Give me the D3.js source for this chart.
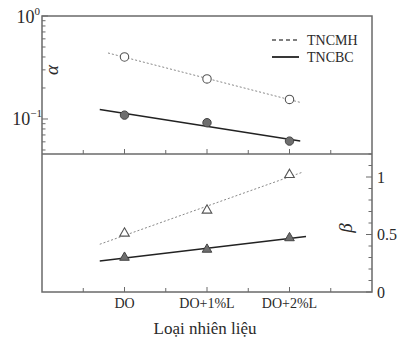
<!DOCTYPE html>
<html>
<head>
<meta charset="utf-8">
<script src="https://cdn.jsdelivr.net/npm/d3@7"></script>
<style>
  html, body { margin: 0; padding: 0; background: #fff; }
  text { font-family: "Liberation Serif", "DejaVu Serif", "Times New Roman", serif; }
</style>
</head>
<body>
<svg id="chart" width="399" height="338"></svg>
<script>
// Fuel types on the x axis
const categories = ["DO", "DO+1%L", "DO+2%L"];
const seriesNames = ["TNCMH", "TNCBC"];

// alpha (log scale, top panel)
const alphaTNCMH = [0.40, 0.245, 0.155];
const alphaTNCBC = [0.109, 0.092, 0.061];

// beta (linear, bottom panel)
const betaTNCMH = [0.51, 0.71, 1.02];
const betaTNCBC = [0.30, 0.37, 0.47];

// extent of the fitted trend lines, in category units
const fitAlphaTNCMH = [-0.2, 2.13];
const fitAlphaTNCBC = [-0.3, 2.13];
const fitBetaTNCMH = [-0.3, 2.15];
const fitBetaTNCBC = [-0.3, 2.2];

const betaTicks = [0, 0.5, 1];
const alphaTickLabels = [{v: 1, e: "0"}, {v: 0.1, e: "\u22121"}];

const FONT = "'Liberation Serif', 'DejaVu Serif', serif";
const svg = d3.select("#chart").attr("font-family", FONT);
const L = 42, R = 372, T = 16, MID = 154, B = 292;
const frame = "#6a6a6a";
const ink = "#2a2a2a";

const x = d3.scaleLinear().domain([-1, 3]).range([L, R]);
const yA = d3.scaleLog().domain([10 ** -1.34, 1]).range([MID, T]);
const yB = d3.scaleLinear().domain([0, 1.2]).range([B, MID]);

// least squares fit, optionally in log space
function fit(vals, logY) {
  const xs = vals.map((_, i) => i);
  const ys = vals.map(v => logY ? Math.log10(v) : v);
  const mx = d3.mean(xs), my = d3.mean(ys);
  const b = d3.sum(xs, (xi, i) => (xi - mx) * (ys[i] - my)) / d3.sum(xs, xi => (xi - mx) ** 2);
  const a = my - b * mx;
  return t => logY ? 10 ** (a + b * t) : a + b * t;
}

function trend(vals, range, yScale, logY, dashed) {
  const f = fit(vals, logY);
  svg.append("line")
    .attr("x1", x(range[0])).attr("y1", yScale(f(range[0])))
    .attr("x2", x(range[1])).attr("y2", yScale(f(range[1])))
    .attr("stroke", dashed ? "#888" : "#222")
    .attr("stroke-width", dashed ? 1 : 1.4)
    .attr("stroke-dasharray", dashed ? "2,2" : null);
}

trend(alphaTNCMH, fitAlphaTNCMH, yA, true, true);
trend(alphaTNCBC, fitAlphaTNCBC, yA, true, false);
trend(betaTNCMH, fitBetaTNCMH, yB, false, true);
trend(betaTNCBC, fitBetaTNCBC, yB, false, false);

// circle markers
svg.selectAll(".cA").data(alphaTNCMH).join("circle")
  .attr("cx", (d, i) => x(i)).attr("cy", d => yA(d)).attr("r", 4.2)
  .attr("fill", "#fff").attr("stroke", "#555").attr("stroke-width", 1.1);
svg.selectAll(".cB").data(alphaTNCBC).join("circle")
  .attr("cx", (d, i) => x(i)).attr("cy", d => yA(d)).attr("r", 4.2)
  .attr("fill", "#6e6e6e").attr("stroke", "#444").attr("stroke-width", 1);

// triangle markers
const tri = d3.symbol().type(d3.symbolTriangle).size(40);
svg.selectAll(".tA").data(betaTNCMH).join("path")
  .attr("d", tri).attr("transform", (d, i) => `translate(${x(i)},${yB(d)})`)
  .attr("fill", "#fff").attr("stroke", "#555").attr("stroke-width", 1.1);
svg.selectAll(".tB").data(betaTNCBC).join("path")
  .attr("d", tri).attr("transform", (d, i) => `translate(${x(i)},${yB(d)})`)
  .attr("fill", "#6e6e6e").attr("stroke", "#444").attr("stroke-width", 1);

// frames
svg.append("rect").attr("x", L).attr("y", T).attr("width", R - L).attr("height", B - T)
  .attr("fill", "none").attr("stroke", frame).attr("stroke-width", 1.5);
svg.append("line").attr("x1", L).attr("x2", R).attr("y1", MID).attr("y2", MID)
  .attr("stroke", frame).attr("stroke-width", 1.5);

// x ticks (inward) on panel divider and bottom edge
const xTicks = d3.range(-0.5, 3, 0.5);
[MID, B].forEach(yy => {
  svg.selectAll(null).data(xTicks).join("line")
    .attr("x1", d => x(d)).attr("x2", d => x(d))
    .attr("y1", yy).attr("y2", d => yy - (Number.isInteger(d) ? 5 : 4))
    .attr("stroke", frame).attr("stroke-width", 1);
});

// log ticks on left of top panel
const logTicks = yA.ticks();
svg.selectAll(null).data(logTicks).join("line")
  .attr("x1", L).attr("x2", d => L + ([1, 0.1].includes(+d.toPrecision(3)) ? 6 : 3.5))
  .attr("y1", d => yA(d)).attr("y2", d => yA(d))
  .attr("stroke", frame).attr("stroke-width", 1);

// beta ticks on right of bottom panel
const betaMinor = d3.range(0, 1.21, 0.1);
svg.selectAll(null).data(betaMinor).join("line")
  .attr("x1", R).attr("x2", (d, i) => R - (i % 5 === 0 ? 6 : 3.5))
  .attr("y1", d => yB(d)).attr("y2", d => yB(d))
  .attr("stroke", frame).attr("stroke-width", 1);

// tick labels
svg.selectAll(null).data(categories).join("text")
  .attr("x", (d, i) => x(i)).attr("y", B + 16)
  .attr("text-anchor", "middle").attr("font-size", 14).attr("fill", ink)
  .text(d => d);

svg.selectAll(null).data(betaTicks).join("text")
  .attr("x", R + 5).attr("y", d => yB(d) + 5.5)
  .attr("font-size", 16).attr("fill", ink)
  .text(d => d);

alphaTickLabels.forEach(t => {
  const txt = svg.append("text").attr("y", yA(t.v) + 6.5).attr("font-size", 18).attr("fill", ink)
    .attr("text-anchor", "end").attr("x", t.e === "0" ? 40 : 42);
  txt.append("tspan").text("10");
  txt.append("tspan").attr("font-size", 11).attr("dy", -8).text(t.e);
});

// axis titles
svg.append("text").attr("transform", `translate(58,70) rotate(-90)`)
  .attr("text-anchor", "middle").attr("font-size", 19).attr("font-style", "italic")
  .attr("fill", ink).text("\u03b1");
svg.append("text").attr("transform", `translate(352,228) rotate(-90)`)
  .attr("text-anchor", "middle").attr("font-size", 19).attr("font-style", "italic")
  .attr("fill", ink).text("\u03b2");
svg.append("text").attr("x", 205).attr("y", 334)
  .attr("text-anchor", "middle").attr("font-size", 17).attr("fill", ink)
  .text("Loại nhiên liệu");

// legend
const legend = svg.append("g");
seriesNames.forEach((name, i) => {
  const yy = 40 + i * 17;
  legend.append("line").attr("x1", 272).attr("x2", 299).attr("y1", yy).attr("y2", yy)
    .attr("stroke", i === 0 ? "#555" : "#222").attr("stroke-width", i === 0 ? 1.4 : 1.8)
    .attr("stroke-dasharray", i === 0 ? "4,3" : null);
  legend.append("text").attr("x", 307).attr("y", yy + 4.5).attr("font-size", 14)
    .attr("fill", ink).text(name);
});
</script>
</body>
</html>
